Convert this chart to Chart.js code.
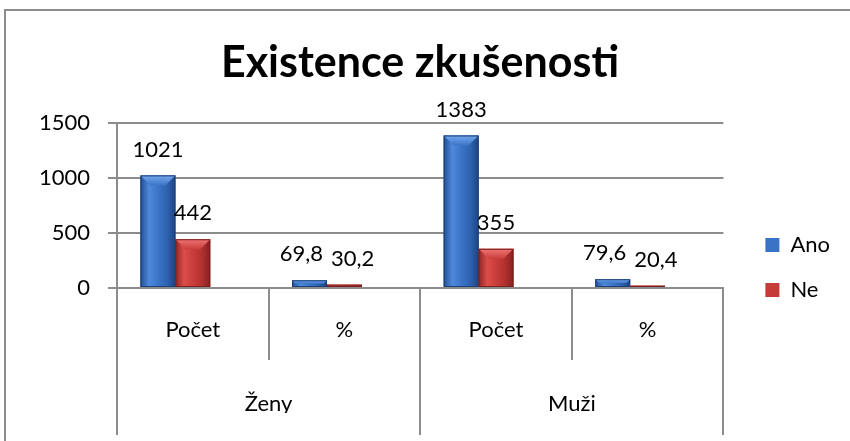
<!DOCTYPE html>
<html>
<head>
<meta charset="utf-8">
<script src="https://cdn.jsdelivr.net/npm/chart.js@4.4.1/dist/chart.umd.min.js"></script>
<style>
  html, body { margin: 0; padding: 0; background: #fff; overflow: hidden; }
  #wrap { position: relative; width: 850px; height: 441px; overflow: hidden; }
  #frame { position: absolute; left: 4px; top: 9px; width: 900px; height: 500px; border: 2px solid #8c8c8c; }
  #chart { position: absolute; left: 0; top: 0; }
</style>
</head>
<body>
<div id="wrap">
  <div id="frame"></div>
  <canvas id="chart" width="850" height="441"></canvas>
</div>
<script>
const categories = ["Počet", "%", "Počet", "%"];
const groups = ["Ženy", "Muži"];
const seriesNames = ["Ano", "Ne"];
const ano = [1021, 69.8, 1383, 79.6];
const ne = [442, 30.2, 355, 20.4];
const yTicks = [0, 500, 1000, 1500];

const colorSections = {
  blue: "#3a72c6",
  red: "#c63a38",
  grid: "#8c8c8c",
  text: "#000000",
};

// horizontal shading + bevel for each series, Excel 2007 style
const shading = {
  Ano: { body: ["#24508f", "#4d89dc", "#3b74c8", "#2f63b2", "#1d4582"], bevel: "#74a9ee", edge: "#1b3e74" },
  Ne: { body: ["#8e2624", "#dc4d4b", "#c93d3b", "#b33130", "#842120"], bevel: "#ee7674", edge: "#7a1e1d" },
};

const fmt = (v) => String(v).replace(".", ",");

const bevelPlugin = {
  id: "bevel",
  afterDatasetsDraw(chart) {
    const ctx = chart.ctx;
    chart.data.datasets.forEach((ds, i) => {
      const s = shading[ds.label];
      if (!s) return;
      chart.getDatasetMeta(i).data.forEach((bar) => {
        const { x, y, base, width } = bar.getProps(["x", "y", "base", "width"], true);
        const l = x - width / 2, r = x + width / 2, h = base - y;
        if (!(h > 0)) return;
        ctx.save();
        const g = ctx.createLinearGradient(l, 0, r, 0);
        s.body.forEach((c, k) => g.addColorStop(k / (s.body.length - 1), c));
        ctx.fillStyle = g;
        ctx.fillRect(l, y, width, h);
        const b = Math.min(10, h / 2, width / 2);
        const tg = ctx.createLinearGradient(0, y, 0, y + b);
        tg.addColorStop(0, s.bevel);
        tg.addColorStop(1, s.body[2]);
        ctx.beginPath();
        ctx.moveTo(l, y);
        ctx.lineTo(r, y);
        ctx.lineTo(r - b, y + b);
        ctx.lineTo(l + b, y + b);
        ctx.closePath();
        ctx.fillStyle = tg;
        ctx.fill();
        ctx.strokeStyle = s.edge;
        ctx.lineWidth = 1;
        ctx.strokeRect(l + 0.5, y + 0.5, width - 1, h - 1);
        ctx.restore();
      });
    });
  },
};

// value above each bar; labels of one category that collide get pushed apart
const valueLabels = {
  id: "valueLabels",
  afterDatasetsDraw(chart) {
    const ctx = chart.ctx;
    ctx.save();
    ctx.font = "22px Lato";
    ctx.fillStyle = colorSections.text;
    ctx.textAlign = "center";
    ctx.textBaseline = "middle";
    const rows = [];
    chart.data.datasets.forEach((ds, i) => {
      if (!shading[ds.label]) return;
      rows.push(chart.getDatasetMeta(i).data.map((bar, j) => {
        const text = fmt(ds.data[j]);
        return { text, x: bar.x, y: bar.y - 26, w: ctx.measureText(text).width };
      }));
    });
    categories.forEach((c, j) => {
      const a = rows[0][j], b = rows[1][j];
      const need = (a.w + b.w) / 2 + 8;
      const d = b.x - a.x;
      if (d < need && Math.abs(a.y - b.y) < 22) {
        a.x -= (need - d) / 2;
        b.x += (need - d) / 2;
      }
    });
    rows.forEach((row) => row.forEach((t) => ctx.fillText(t.text, t.x, t.y)));
    ctx.restore();
  },
};

Chart.defaults.font.family = "Lato";
Chart.defaults.color = colorSections.text;

new Chart(document.getElementById("chart"), {
  type: "bar",
  data: {
    labels: categories,
    datasets: [
      { label: seriesNames[0], data: ano, backgroundColor: colorSections.blue, borderWidth: 0 },
      { label: seriesNames[1], data: ne, backgroundColor: colorSections.red, borderWidth: 0 },
      // empty slot: Excel's 3D columns sit left of the category centre
      { label: "", data: categories.map(() => null), backgroundColor: "rgba(0,0,0,0)", borderWidth: 0 },
    ],
  },
  options: {
    responsive: false,
    animation: false,
    events: [],
    categoryPercentage: 0.69,
    barPercentage: 1.0,
    layout: { padding: { left: 0, right: 10, top: 0, bottom: 28 } },
    plugins: {
      title: {
        display: true,
        text: "Existence zkušenosti",
        font: { size: 43, weight: "bold" },
        color: colorSections.text,
        padding: { top: 37, bottom: 34 },
      },
      legend: {
        position: "right",
        // blank title just pushes the two entries down beside the axis
        title: { display: true, text: " ", font: { size: 10 }, padding: { top: 110, bottom: 0 } },
        labels: {
          font: { size: 22 },
          boxWidth: 14,
          boxHeight: 14,
          padding: 23,
          filter: (item) => item.text !== "",
        },
      },
      tooltip: { enabled: false },
    },
    scales: {
      x: {
        offset: true,
        grid: { offset: true, drawOnChartArea: false, tickLength: 72, color: colorSections.grid, lineWidth: 2 },
        border: { display: true, color: colorSections.grid, width: 2 },
        ticks: { font: { size: 22 }, padding: -43, maxRotation: 0 },
        afterFit: (s) => { s.height = 72; },
      },
      x2: {
        type: "category",
        position: "bottom",
        labels: groups,
        offset: true,
        grid: { offset: true, drawOnChartArea: false, tickLength: 75, color: colorSections.grid, lineWidth: 2 },
        border: { display: false },
        ticks: { font: { size: 22 }, padding: -44, maxRotation: 0 },
        afterFit: (s) => { s.height = 53; },
      },
      y: {
        min: 0,
        max: 1500,
        afterBuildTicks: (s) => { s.ticks = yTicks.map((v) => ({ value: v })); },
        grid: { color: colorSections.grid, lineWidth: 2, tickLength: 9 },
        border: { display: true, color: colorSections.grid, width: 2 },
        ticks: { font: { size: 22 }, padding: 18, callback: (v) => String(v) },
        afterFit: (s) => { s.width = 117; },
      },
      yR: {
        position: "right",
        display: true,
        grid: { display: false },
        border: { display: false },
        ticks: { display: false },
        afterFit: (s) => { s.width = 19; },
      },
    },
  },
  plugins: [bevelPlugin, valueLabels],
});
</script>
</body>
</html>
